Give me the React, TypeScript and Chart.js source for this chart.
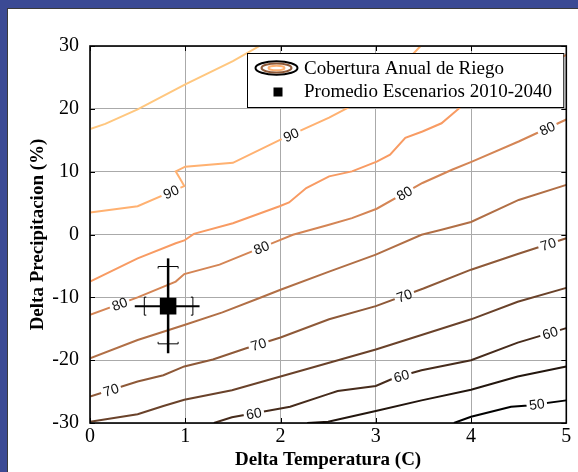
import React, { useEffect, useRef } from "react";
import { Chart, registerables } from "chart.js";
Chart.register(...registerables);

// ---- data ----
const X_TICKS = [0, 1, 2, 3, 4, 5];
const Y_TICKS = [-30, -20, -10, 0, 10, 20, 30];
const LEVELS = [95, 90, 85, 80, 75, 70, 65, 60, 55, 50];

const C95 = [[0, 16.8], [0.16, 17.6], [0.5, 19.9], [0.9, 23.1], [1.0, 23.9], [1.5, 27.6], [1.78, 30]];
const C90 = [[0, 3.5], [0.5, 4.5], [0.99, 7.7], [0.9, 10.05], [1.0, 10.8], [1.5, 11.4], [2.0, 15.1], [2.51, 18.6], [3.0, 22.5], [3.47, 30]];
const C85 = [[0, -7.5], [0.5, -3.8], [0.9, -1.4], [0.99, -0.95], [1.09, 0.1], [1.5, 1.8], [1.99, 4.5], [2.09, 5.1], [2.27, 7.4], [2.51, 9.25], [2.75, 10.05], [3.01, 11.6], [3.15, 12.7], [3.31, 15.4], [3.49, 16.4], [3.69, 17.7], [3.9, 20.4], [4.3, 23.5], [5, 28.6]];
const C80 = [[0, -12.8], [0.5, -10], [0.9, -7.5], [0.99, -6.3], [1.36, -4.8], [1.65, -3.0], [1.96, -1.1], [2.13, -0.05], [2.5, 1.5], [2.75, 2.6], [3.01, 4.1], [3.49, 8.2], [3.8, 10.3], [4.01, 11.6], [4.5, 14.8], [5, 18.3]];
const C75 = [[0, -19.7], [0.5, -16.8], [0.99, -14.4], [1.39, -12.4], [1.78, -10.1], [2.0, -8.8], [2.51, -5.9], [3.0, -3.2], [3.48, -0.05], [3.69, 0.75], [4.0, 2.0], [4.5, 5.5], [5, 7.9]];
const C70 = [[0, -25.8], [0.5, -23.4], [0.77, -22.4], [0.99, -21], [1.29, -19.9], [1.64, -18.1], [2.0, -16.4], [2.51, -13.5], [3.0, -11.4], [3.5, -8.6], [4.0, -5.6], [4.49, -3.1], [5, -0.6]];
const C65 = [[0, -29.8], [0.5, -28.6], [0.77, -27.3], [0.99, -26.3], [1.49, -24.8], [2.0, -22.6], [2.51, -20.4], [3.0, -18.3], [3.48, -16.0], [4.0, -13.5], [4.49, -10.7], [5, -8.5]];
const C60 = [[1.3, -30], [1.49, -29.1], [2.0, -27.7], [2.1, -27.4], [2.5, -25.4], [2.6, -24.9], [3.0, -24.1], [3.2, -22.8], [3.48, -21.6], [4.0, -20.0], [4.49, -17.2], [5, -14.9]];
const C55 = [[2.28, -30], [2.5, -29.8], [3.0, -28.1], [3.48, -26.4], [4.0, -24.7], [4.49, -22.6], [5, -21]];
const C50 = [[3.82, -30], [4.0, -29.0], [4.42, -27.4], [4.6, -27.2], [5, -26.4]];

const LABEL_X_90 = [0.85, 2.11];
const LABEL_X_80 = [0.31, 1.8, 3.3, 4.8];
const LABEL_X_70 = [0.22, 1.77, 3.3, 4.81];
const LABEL_X_60 = [1.72, 3.27, 4.83];
const LABEL_X_50 = [4.69];

const MEAN_T = 0.82;
const MEAN_P = -11.4;
const ERR_T = [0.47, 1.15];
const ERR_T_CAPS = [0.57, 1.08];
const ERR_P = [-18.9, -3.8];
const ERR_P_CAPS = [-17.4, -5.1];

const LEGEND_LABELS = ["Cobertura Anual de Riego", "Promedio Escenarios 2010-2040"];
const X_TITLE = "Delta Temperatura (C)";
const Y_TITLE = "Delta Precipitacion (%)";

const CONTOURS: Record<number, number[][]> = {
  95: C95, 90: C90, 85: C85, 80: C80, 75: C75, 70: C70, 65: C65, 60: C60, 55: C55, 50: C50,
};
const LABELS: [number, number[]][] = [
  [90, LABEL_X_90], [80, LABEL_X_80], [70, LABEL_X_70], [60, LABEL_X_60], [50, LABEL_X_50],
];

// ---- styles ----
function copper(level: number) {
  const t = (level - 50) / 45;
  const r = Math.round(255 * Math.min(1, 1.25 * t));
  const g = Math.round(255 * 0.7812 * t);
  const b = Math.round(255 * 0.4975 * t);
  return `rgb(${r},${g},${b})`;
}
const SERIF = '"Liberation Serif", "Times New Roman", serif';
const SANS = '"Liberation Sans", Arial, sans-serif';
const LABEL_FONT = `14px ${SANS}`;

function interpY(pts: number[][], x: number) {
  for (let i = 0; i < pts.length - 1; i++) {
    const a = pts[i], b = pts[i + 1];
    const lo = Math.min(a[0], b[0]), hi = Math.max(a[0], b[0]);
    if (x >= lo && x <= hi && hi > lo) {
      const t = (x - a[0]) / (b[0] - a[0]);
      return { y: a[1] + t * (b[1] - a[1]), a, b };
    }
  }
  return null;
}

function labelGeometry(chart: any) {
  const xs = chart.scales.x, ys = chart.scales.y;
  const ctx = chart.ctx;
  ctx.save();
  ctx.font = LABEL_FONT;
  const out: any[] = [];
  LABELS.forEach(([lvl, xsList]) => {
    xsList.forEach((lx) => {
      const r = interpY(CONTOURS[lvl], lx);
      if (!r) return;
      const px = xs.getPixelForValue(lx), py = ys.getPixelForValue(r.y);
      const ax = xs.getPixelForValue(r.a[0]), ay = ys.getPixelForValue(r.a[1]);
      const bx = xs.getPixelForValue(r.b[0]), by = ys.getPixelForValue(r.b[1]);
      let ang = Math.atan2(by - ay, bx - ax);
      if (ang > Math.PI / 2) ang -= Math.PI;
      if (ang < -Math.PI / 2) ang += Math.PI;
      const text = String(lvl);
      const w = ctx.measureText(text).width;
      out.push({ px, py, ang, text, w });
    });
  });
  ctx.restore();
  return out;
}

const bgPlugin = {
  id: "bg",
  beforeDraw(chart: any) {
    const ctx = chart.ctx;
    ctx.save();
    ctx.fillStyle = "#3b4a94";
    ctx.fillRect(0, 0, chart.width, chart.height);
    ctx.fillStyle = "#3a3a3a";
    ctx.fillRect(7, 8, chart.width - 7, chart.height - 8);
    ctx.fillStyle = "#ffffff";
    ctx.fillRect(8, 9, chart.width - 8, chart.height - 9);
    ctx.restore();
  },
};

const contourPlugin = {
  id: "contourExtras",
  beforeDatasetsDraw(chart: any) {
    const ctx = chart.ctx;
    const labs = labelGeometry(chart);
    ctx.save();
    ctx.beginPath();
    ctx.rect(0, 0, chart.width, chart.height);
    labs.forEach((l) => {
      const hw = l.w / 2 + 2.5, hh = 6;
      const c = Math.cos(l.ang), s = Math.sin(l.ang);
      const corners = [[-hw, -hh], [hw, -hh], [hw, hh], [-hw, hh]].map(([u, v]) => [
        l.px + u * c - v * s,
        l.py + u * s + v * c,
      ]);
      ctx.moveTo(corners[0][0], corners[0][1]);
      for (let i = 1; i < 4; i++) ctx.lineTo(corners[i][0], corners[i][1]);
      ctx.closePath();
    });
    ctx.clip("evenodd");
  },
  afterDatasetsDraw(chart: any) {
    const ctx = chart.ctx;
    ctx.restore();
    const xs = chart.scales.x, ys = chart.scales.y;
    const { left, right, top, bottom } = chart.chartArea;

    // contour labels
    const labs = labelGeometry(chart);
    ctx.save();
    ctx.font = LABEL_FONT;
    ctx.fillStyle = "#111";
    ctx.textAlign = "center";
    ctx.textBaseline = "middle";
    labs.forEach((l) => {
      ctx.save();
      ctx.translate(l.px, l.py);
      ctx.rotate(l.ang);
      ctx.fillText(l.text, 0, 1);
      ctx.restore();
    });
    ctx.restore();

    // error bars
    const cx = xs.getPixelForValue(MEAN_T), cy = ys.getPixelForValue(MEAN_P);
    ctx.save();
    ctx.strokeStyle = "#000";
    ctx.lineWidth = 2.5;
    ctx.beginPath();
    ctx.moveTo(cx, ys.getPixelForValue(ERR_P[0]));
    ctx.lineTo(cx, ys.getPixelForValue(ERR_P[1]));
    ctx.stroke();
    ctx.lineWidth = 2;
    ctx.beginPath();
    ctx.moveTo(xs.getPixelForValue(ERR_T[0]), cy);
    ctx.lineTo(xs.getPixelForValue(ERR_T[1]), cy);
    ctx.stroke();
    ctx.lineWidth = 1;
    ERR_P_CAPS.forEach((v, i) => {
      const py = ys.getPixelForValue(v);
      const d = i === 0 ? -2 : 2;
      ctx.beginPath();
      ctx.moveTo(cx - 10, py + d);
      ctx.lineTo(cx - 10, py);
      ctx.lineTo(cx + 10, py);
      ctx.lineTo(cx + 10, py + d);
      ctx.stroke();
    });
    ERR_T_CAPS.forEach((v, i) => {
      const px = xs.getPixelForValue(v);
      const d = i === 0 ? 2 : -2;
      ctx.beginPath();
      ctx.moveTo(px + d, cy - 9);
      ctx.lineTo(px, cy - 9);
      ctx.lineTo(px, cy + 9);
      ctx.lineTo(px + d, cy + 9);
      ctx.stroke();
    });
    ctx.restore();

    // axes frame and inward ticks
    ctx.save();
    ctx.strokeStyle = "#000";
    ctx.lineWidth = 1;
    X_TICKS.forEach((v) => {
      const px = Math.round(xs.getPixelForValue(v)) + 0.5;
      ctx.beginPath();
      ctx.moveTo(px, bottom);
      ctx.lineTo(px, bottom - 5);
      ctx.moveTo(px, top);
      ctx.lineTo(px, top + 5);
      ctx.stroke();
    });
    Y_TICKS.forEach((v) => {
      const py = Math.round(ys.getPixelForValue(v)) + 0.5;
      ctx.beginPath();
      ctx.moveTo(left, py);
      ctx.lineTo(left + 5, py);
      ctx.moveTo(right, py);
      ctx.lineTo(right - 5, py);
      ctx.stroke();
    });
    ctx.lineWidth = 1.6;
    ctx.strokeRect(left, top, right - left, bottom - top);
    ctx.restore();

    // legend
    ctx.save();
    const lx0 = 247, ly0 = top + 7, lw = right - 3 - lx0, lh = 54;
    ctx.fillStyle = "#fff";
    ctx.fillRect(lx0, ly0, lw, lh);
    ctx.strokeStyle = "#000";
    ctx.lineWidth = 1;
    ctx.strokeRect(lx0 + 0.5, ly0 + 0.5, lw, lh);
    const icx = lx0 + 29.5, icy = ly0 + 15;
    const rings: [number, number, string][] = [[21, 6.8, "#000"], [15, 4.5, copper(70)], [8, 2.3, copper(90)]];
    rings.forEach(([rx, ry, col]) => {
      ctx.beginPath();
      ctx.ellipse(icx, icy, rx, ry, 0, 0, Math.PI * 2);
      ctx.strokeStyle = col;
      ctx.lineWidth = 2;
      ctx.stroke();
    });
    ctx.fillStyle = "#000";
    ctx.fillRect(icx + 1.5 - 4.5, ly0 + 39 - 4.5, 9, 9);
    ctx.font = `19px ${SERIF}`;
    ctx.textBaseline = "middle";
    ctx.textAlign = "left";
    ctx.fillText(LEGEND_LABELS[0], lx0 + 57, icy + 1);
    ctx.fillText(LEGEND_LABELS[1], lx0 + 57, ly0 + 39.5);
    ctx.restore();
  },
};

export default function App() {
  const ref = useRef<HTMLCanvasElement | null>(null);
  useEffect(() => {
    if (!ref.current) return;
    const datasets: any[] = LEVELS.map((lvl) => ({
      type: "scatter",
      label: String(lvl),
      data: CONTOURS[lvl].map(([x, y]) => ({ x, y })),
      showLine: true,
      borderColor: copper(lvl),
      backgroundColor: copper(lvl),
      borderWidth: 2,
      pointRadius: 0,
      tension: 0,
    }));
    datasets.push({
      type: "scatter",
      label: LEGEND_LABELS[1],
      data: [{ x: MEAN_T, y: MEAN_P }],
      pointStyle: "rect",
      pointRadius: 11.7,
      backgroundColor: "#000",
      borderColor: "#000",
      borderWidth: 0,
    });
    const chart = new Chart(ref.current, {
      type: "scatter",
      data: { datasets },
      options: {
        animation: false,
        responsive: false,
        layout: { padding: { top: 46, right: 10, left: 0, bottom: 0 } },
        plugins: { legend: { display: false }, tooltip: { enabled: false } },
        scales: {
          x: {
            type: "linear",
            min: 0,
            max: 5,
            afterBuildTicks: (s: any) => { s.ticks = X_TICKS.map((v) => ({ value: v })); },
            afterFit: (s: any) => { s.height = 49; },
            ticks: { color: "#000", font: { family: SERIF, size: 20 }, padding: 2, maxRotation: 0 },
            grid: { color: "#aaaaaa", lineWidth: 1, drawTicks: false },
            border: { display: false },
            title: {
              display: true,
              text: X_TITLE,
              color: "#000",
              font: { family: SERIF, size: 19, weight: "bold" },
              padding: { top: 0, bottom: 1 },
            },
          },
          y: {
            type: "linear",
            min: -30,
            max: 30,
            afterBuildTicks: (s: any) => { s.ticks = Y_TICKS.map((v) => ({ value: v })); },
            afterFit: (s: any) => { s.width = 90; },
            ticks: { color: "#000", font: { family: SERIF, size: 20 }, padding: 11 },
            grid: { color: "#aaaaaa", lineWidth: 1, drawTicks: false },
            border: { display: false },
            title: {
              display: true,
              text: Y_TITLE,
              color: "#000",
              font: { family: SERIF, size: 19, weight: "bold" },
              padding: { top: 27, bottom: 0 },
            },
          },
        },
      } as any,
      plugins: [bgPlugin, contourPlugin],
    });
    return () => chart.destroy();
  }, []);
  return (
    <div style={{ position: "fixed", left: 0, top: 0, width: 578, height: 472 }}>
      <canvas ref={ref} width={578} height={472} style={{ display: "block" }} />
    </div>
  );
}
